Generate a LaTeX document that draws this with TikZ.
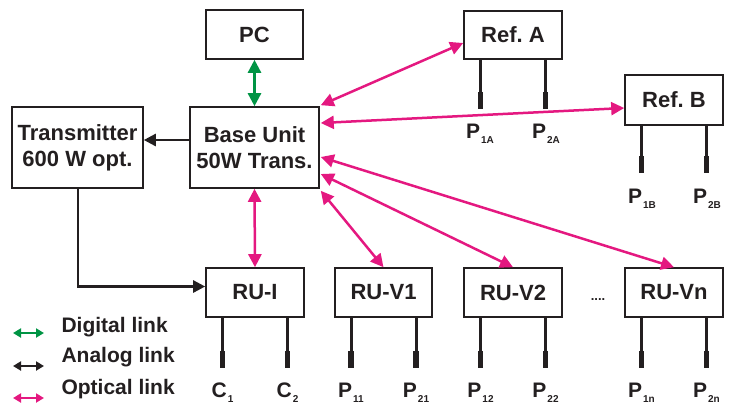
\documentclass[tikz,border=0pt]{standalone}
\usepackage{fontspec}
\setmainfont{Liberation Sans}
\usetikzlibrary{arrows.meta,calc}
\definecolor{optmag}{RGB}{228,24,128}
\definecolor{diggreen}{RGB}{0,148,68}
\definecolor{ink}{RGB}{35,31,32}
\frenchspacing
\newcommand\lbsub[1]{\kern1pt\raisebox{-5pt}{\fontsize{10}{10}\selectfont\bfseries #1}}
\tikzset{
  box/.style={draw=ink, line width=1.6pt, rectangle, inner sep=0pt, align=center,
    text=ink, font=\fontsize{22}{26}\selectfont\bfseries},
  optical/.style={draw=optmag, line width=2.5pt, {Triangle[length=13pt,width=13pt]}-{Triangle[length=13pt,width=13pt]}},
  digital/.style={draw=diggreen, line width=2.5pt, {Triangle[length=13pt,width=13pt]}-{Triangle[length=13pt,width=13pt]}},
  analog/.style={draw=ink, line width=2.5pt, -{Triangle[length=12pt,width=12pt]}},
  legline/.style={draw=ink, line width=3pt},
  legend/.style={anchor=west, text=ink, font=\fontsize{21}{24}\selectfont\bfseries},
  plabel/.style={anchor=base, text=ink, inner sep=0pt, font=\fontsize{21}{24}\selectfont\bfseries},
}
\newcommand\twolegs[2]{%
  \foreach \dx in {-32.5,32.5}{%
    \draw[legline] ([xshift=\dx pt]#1.south) -- ++(0,#2);
    \draw[ink, line width=5.5pt] ([xshift=\dx pt]#1.south) ++(0,#2-17) -- ++(0,17);
  }}
\begin{document}
\begin{tikzpicture}[x=1pt,y=-1pt]
\useasboundingbox (0,0) rectangle (730,405);
% boxes
\node[box, minimum width=97pt, minimum height=49pt] (pc) at (254.5,34.5) {PC};
\node[box, minimum width=129pt, minimum height=81pt] (base) at (254.5,147.5) {Base Unit\\50W Trans.};
\node[box, minimum width=131pt, minimum height=81pt] (trans) at (77.5,147.5) {Transmitter\\600 W opt.};
\node[box, minimum width=98pt, minimum height=48pt] (refa) at (513,35) {Ref. A};
\node[box, minimum width=98pt, minimum height=50pt] (refb) at (674,100) {Ref. B};
\node[box, minimum width=98pt, minimum height=49pt] (rui) at (255,292.5) {RU-I};
\node[box, minimum width=97pt, minimum height=49pt] (ruv1) at (383.5,292.5) {RU-V1};
\node[box, minimum width=98pt, minimum height=49pt] (ruv2) at (513,292.5) {RU-V2};
\node[box, minimum width=98pt, minimum height=49pt] (ruvn) at (674,292.5) {RU-Vn};
\node[text=ink, font=\fontsize{13}{13}\selectfont\bfseries, inner sep=0pt] (dots) at (598,300) {....};
% legs
\twolegs{refa}{49}
\twolegs{refb}{47}
\twolegs{rui}{50}
\twolegs{ruv1}{50}
\twolegs{ruv2}{50}
\twolegs{ruvn}{50}
% labels
\node[plabel] (p1a) at (480,138) {P\lbsub{1A}};
\node[plabel] (p2a) at (546,138) {P\lbsub{2A}};
\node[plabel] (p1b) at (642,203) {P\lbsub{1B}};
\node[plabel] (p2b) at (707,203) {P\lbsub{2B}};
\node[plabel] (c1) at (222.5,397) {C\lbsub{1}};
\node[plabel] (c2) at (287.5,397) {C\lbsub{2}};
\node[plabel] (p11) at (351,397) {P\lbsub{11}};
\node[plabel] (p21) at (416,397) {P\lbsub{21}};
\node[plabel] (p12) at (480.5,397) {P\lbsub{12}};
\node[plabel] (p22) at (545.5,397) {P\lbsub{22}};
\node[plabel] (p1n) at (641.5,397) {P\lbsub{1n}};
\node[plabel] (p2n) at (706.5,397) {P\lbsub{2n}};
% connectors
\draw[digital] (pc.south) -- (base.north);
\draw[optical] (base.south) -- (rui.north);
\draw[optical] ($(base.north east)+(1,-1)$) -- ($(refa.west)+(0,8)$);
\draw[optical] ($(base.east)+(1,-24.5)$) -- ($(refb.west)+(0,8)$);
\draw[optical] ($(base.east)+(1,9.5)$) -- (ruvn.north);
\draw[optical] ($(base.east)+(1,26.5)$) -- (ruv2.north);
\draw[optical] ($(base.south east)+(1,2)$) -- (ruv1.north);
\coordinate (bw) at ($(base.west)+(0,-7.5)$);
\draw[analog] (bw) -- (bw -| trans.east);
\coordinate (ruin) at ($(rui.west)+(0,-6)$);
\draw[analog] ([xshift=0.5pt]trans.south) |- (ruin);
% legend
\coordinate (l1a) at (13,333); \coordinate (l1b) at (44,333);
\coordinate (l2a) at (13,366); \coordinate (l2b) at (44,366);
\coordinate (l3a) at (13,398); \coordinate (l3b) at (44,398);
\draw[draw=diggreen, line width=2pt, {Triangle[length=8pt,width=9pt]}-{Triangle[length=8pt,width=9pt]}] (l1a) -- (l1b);
\draw[draw=ink, line width=2pt, {Triangle[length=8pt,width=9pt]}-{Triangle[length=8pt,width=9pt]}] (l2a) -- (l2b);
\draw[draw=optmag, line width=2pt, {Triangle[length=8pt,width=9pt]}-{Triangle[length=8pt,width=9pt]}] (l3a) -- (l3b);
\node[legend] (t1) at (58,327) {Digital link};
\node[legend] (t2) at (58,357) {Analog link};
\node[legend] (t3) at (58,389) {Optical link};
\end{tikzpicture}
\end{document}
